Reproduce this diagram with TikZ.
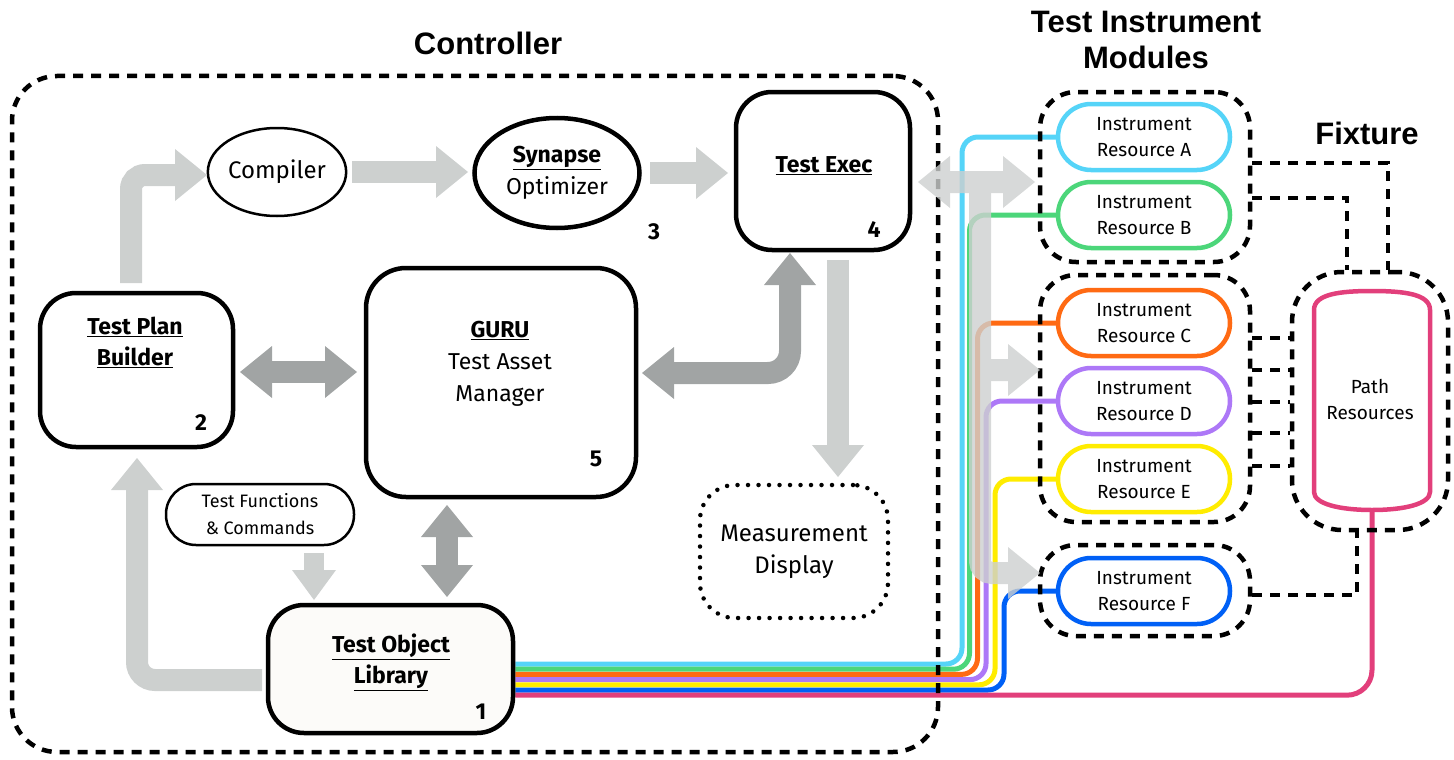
\documentclass[tikz,border=0pt]{standalone}
\usepackage{fontspec}
\setmainfont{Fira Sans}
\newfontfamily\ttlfont{Liberation Sans}
\usetikzlibrary{arrows.meta,shapes.geometric}
\pgfdeclarelayer{bg}
\pgfdeclarelayer{fg}
\pgfsetlayers{bg,main,fg}
\definecolor{lgray}{HTML}{CDD0CF}
\definecolor{dgray}{HTML}{A1A4A4}
\definecolor{cyanline}{HTML}{55D4F8}
\definecolor{greenline}{HTML}{4CD67A}
\definecolor{orangeline}{HTML}{FF6A13}
\definecolor{purpleline}{HTML}{AD78F7}
\definecolor{yellowline}{HTML}{FFEC00}
\definecolor{blueline}{HTML}{0060F6}
\definecolor{pinkline}{HTML}{E23F7B}
\definecolor{libfill}{HTML}{FCFBF9}
\begin{document}
\begin{tikzpicture}[x=1pt,y=-1pt,
  every node/.style={inner sep=0pt},
  dsh/.style={line width=4.5pt, dash pattern=on 10pt off 8pt},
  ctrlbox/.style={draw, dsh, rounded corners=45pt, rectangle},
  grpbox/.style={draw, dsh, rounded corners=36pt, rectangle},
  solidbox/.style={draw, line width=4.5pt, rounded corners=36pt, rectangle},
  pill/.style={draw, line width=4.5pt, rounded corners=33pt, rectangle, minimum width=172pt, minimum height=66pt, align=center, font=\fontsize{19}{26}\selectfont},
  txt/.style={align=center, font=\fontsize{23}{32}\selectfont},
  btxt/.style={align=center, font=\fontsize{23}{31}\selectfont\bfseries},
  num/.style={font=\fontsize{23}{23}\selectfont\bfseries},
  ttl/.style={align=center, font=\fontsize{31}{36}\selectfont\ttlfont\bfseries},
  lga/.style={draw=lgray, line width=22pt},
  dga/.style={draw=dgray, line width=22pt},
  fh/.style={-{Triangle[length=32pt,width=52pt,line width=0pt]}},
  fhs/.style={-{Triangle[length=30pt,width=44pt,line width=0pt]}},
  fhh/.style={{Triangle[length=32pt,width=52pt,line width=0pt]}-{Triangle[length=32pt,width=52pt,line width=0pt]}},
  cl/.style={line width=5pt, rounded corners=16pt},
]
\useasboundingbox (0,0) rectangle (1454,760);

% titles
\node[ttl] (tctrl) at (488,43) {Controller};
\node[ttl] (ttim) at (1146,40) {Test Instrument\\Modules};
\node[ttl] (tfix) at (1367,133) {Fixture};

% controller box
\node[ctrlbox, minimum width=926pt, minimum height=676pt] (ctrl) at (475,414) {};

% controller nodes
\node[draw, ellipse, line width=2.5pt, minimum width=128pt, minimum height=88pt, txt, font=\fontsize{24}{32}\selectfont] (compiler) at (277,172) {Compiler};
\node[draw, ellipse, line width=4.5pt, minimum width=165pt, minimum height=110pt, txt] (synapse) at (557,173) {\textbf{\underline{Synapse}}\\Optimizer};
\node[num] (n3) at (654,232) {3};

\node[solidbox, minimum width=174pt, minimum height=158pt] (exec) at (823,171) {};
\node[btxt] (lexec) at (824,166) {\underline{Test Exec}};
\node[num] (n4) at (874,230) {4};

\node[solidbox, minimum width=193pt, minimum height=154pt] (tpb) at (136.5,370) {};
\node[btxt] (ltpb) at (135,342) {\underline{Test Plan}\\\underline{Builder}};
\node[num] (n2) at (201,423) {2};

\node[solidbox, rounded corners=40pt, minimum width=270pt, minimum height=229pt] (guru) at (501,382.5) {};
\node[txt] (lguru) at (500,364) {\textbf{\underline{GURU}}\\Test Asset\\Manager};
\node[num] (n5) at (596,459) {5};

\node[draw, line width=2.5pt, rounded corners=30pt, minimum width=188pt, minimum height=61pt, align=center, font=\fontsize{18}{27}\selectfont] (tfc) at (260,514.5) {Test Functions\\\& Commands};

\node[solidbox, fill=libfill, minimum width=245pt, minimum height=128pt] (lib) at (390.5,669) {};
\node[btxt] (llib) at (391,662) {\underline{Test Object}\\\underline{Library}};
\node[num] (n1) at (481,712) {1};

\node[draw, line width=4.5pt, dash pattern=on 0pt off 10.5pt, line cap=round, rounded corners=35pt, minimum width=188pt, minimum height=133pt, txt, font=\fontsize{24}{32}\selectfont] (meas) at (794,551.5) {Measurement\\Display};

% instrument modules
\node[pill, draw=cyanline] (iA) at (1144,137) {Instrument\\Resource A};
\node[pill, draw=greenline] (iB) at (1144,215) {Instrument\\Resource B};
\node[pill, draw=orangeline] (iC) at (1144,323) {Instrument\\Resource C};
\node[pill, draw=purpleline] (iD) at (1144,401) {Instrument\\Resource D};
\node[pill, draw=yellowline] (iE) at (1144,479) {Instrument\\Resource E};
\node[pill, draw=blueline] (iF) at (1144,591) {Instrument\\Resource F};

\node[grpbox, minimum width=210pt, minimum height=170pt] (gAB) at (1145,177) {};
\node[grpbox, minimum width=210pt, minimum height=247pt] (gCDE) at (1145,398.5) {};
\node[grpbox, minimum width=210pt, minimum height=91pt] (gF) at (1145,590.5) {};

% fixture
\node[grpbox, rounded corners=50pt, minimum width=156pt, minimum height=258pt] (fix) at (1370,401) {};
\draw[pinkline, line width=4.5pt] (1314,492) -- (1314,310) .. controls (1314,294) and (1340,291) .. (1372,291) .. controls (1404,291) and (1430,294) .. (1430,310) -- (1430,492) .. controls (1430,504) and (1404,510) .. (1372,510) .. controls (1340,510) and (1314,504) .. (1314,492) -- cycle;
\node[align=center, font=\fontsize{19}{26}\selectfont] (pr) at (1370,400) {Path\\Resources};
\coordinate (prbot) at (1372,510);

% fixture dashed connectors
\draw[dsh] (gAB.east |- 0,163) -| (fix.north -| 1388,0);
\draw[dsh] (gAB.east |- 0,198) -| (fix.north -| 1347,0);
\foreach \yy in {338,370,402,433,466} \draw[dsh] (gCDE.east |- 0,\yy) -- (fix.west |- 0,\yy);
\draw[dsh] (gF.east |- 0,595) -| (fix.south -| 1357,0);

% coloured cables
\begin{pgfonlayer}{bg}
\draw[cl, cyanline]   (lib.east |- 0,664)   -| (iA.west -| 962,0) -- (iA.west);
\draw[cl, greenline]  (lib.east |- 0,669.2) -| (iB.west -| 969.5,0) -- (iB.west);
\draw[cl, orangeline] (lib.east |- 0,674.4) -| (iC.west -| 977.5,0) -- (iC.west);
\draw[cl, purpleline] (lib.east |- 0,679.6) -| (iD.west -| 986,0) -- (iD.west);
\draw[cl, yellowline] (lib.east |- 0,684.8) -| (iE.west -| 995,0) -- (iE.west);
\draw[cl, blueline]   (lib.east |- 0,690)   -| (iF.west -| 1004,0) -- (iF.west);
\draw[cl, pinkline, rounded corners=25pt] (lib.east |- 0,695.2) -| (prbot);
\end{pgfonlayer}

% light grey flow arrows
\draw[lga, fh, rounded corners=14pt] (131,283) -- (131,175) -- (207,175);
\draw[lga, fh] (352,172) -- (468,172);
\draw[lga, fh] (650,173) -- (728,173);
\draw[lga, fh] (838,260) -- (838,477);
\draw[lga, fhs, line width=20pt] (314,553) -- (314,600);
\draw[lga, fh, rounded corners=18pt] (262,680) -- (137,680) -- (137,458);

% dark grey arrows
\draw[dga, fhh] (240,372) -- (357,372);
\draw[dga, fhh, rounded corners=22pt] (642,373) -- (790,373) -- (790,253);
\draw[dga, fhh] (447,505) -- (447,597);

% translucent arrows to instruments
\begin{pgfonlayer}{fg}
\begin{scope}[transparency group, opacity=0.8]
\draw[lga, fhh] (918,182) -- (1035,182);
\draw[lga, fh, rounded corners=12pt] (980,182) -- (980,573) -- (1040,573);
\draw[lga, fh] (980,370) -- (1040,370);
\end{scope}
\end{pgfonlayer}
\end{tikzpicture}
\end{document}
